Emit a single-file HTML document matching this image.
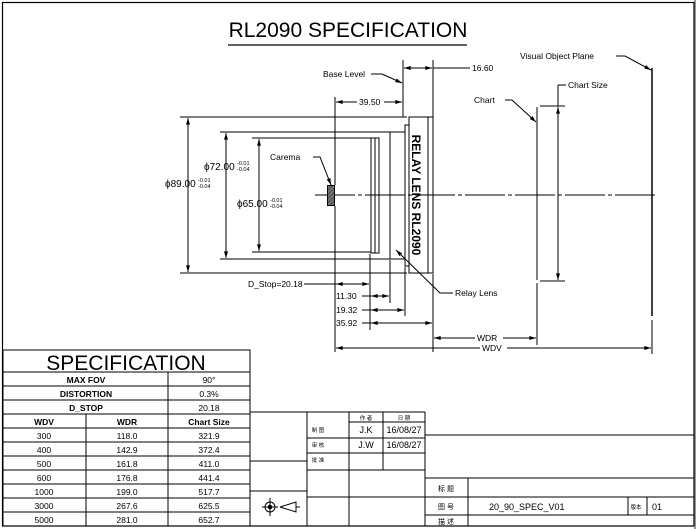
<!DOCTYPE html>
<html><head><meta charset="utf-8"><style>
html,body{margin:0;padding:0;background:#fff}
svg{display:block}
text{font-family:"Liberation Sans","Noto Sans CJK SC",sans-serif;fill:#000}
</style></head><body>
<svg width="696" height="529" viewBox="0 0 696 529" xmlns="http://www.w3.org/2000/svg">
<defs>
<marker id="a" viewBox="0 0 10 6" refX="10" refY="3" markerWidth="8" markerHeight="4" orient="auto-start-reverse" markerUnits="userSpaceOnUse"><path d="M0,0L10,3L0,6z" fill="#000"/></marker>
<pattern id="h" width="3" height="3" patternUnits="userSpaceOnUse" patternTransform="rotate(45)"><rect width="3" height="3" fill="#777"/><line x1="0" y1="0" x2="0" y2="3" stroke="#222" stroke-width="1.2"/></pattern>
</defs>
<rect x="694" y="0" width="2" height="529" fill="#999"/>
<rect x="2.5" y="2.5" width="691.5" height="523.5" fill="none" stroke="#000" stroke-width="1.2"/>
<text x="348" y="37" font-size="21" text-anchor="middle">RL2090 SPECIFICATION</text>
<line x1="228" y1="45" x2="467" y2="45" stroke="#000" stroke-width="1.3"/>

<g stroke="#000" stroke-width="1" fill="none">
<!-- centerline -->
<line x1="315" y1="195" x2="655" y2="195" stroke-dasharray="40,3,4,3"/>
<!-- extension lines for diameters -->
<line x1="180" y1="117" x2="407" y2="117"/>
<line x1="180" y1="273" x2="407" y2="273"/>
<line x1="220" y1="132" x2="390" y2="132"/>
<line x1="220" y1="259" x2="390" y2="259"/>
<line x1="252" y1="138" x2="371" y2="138"/>
<line x1="252" y1="252" x2="371" y2="252"/>
<line x1="188" y1="118" x2="188" y2="272" marker-start="url(#a)" marker-end="url(#a)"/>
<line x1="226" y1="133" x2="226" y2="258" marker-start="url(#a)" marker-end="url(#a)"/>
<line x1="259" y1="139" x2="259" y2="251" marker-start="url(#a)" marker-end="url(#a)"/>
<!-- lens -->
<rect x="371" y="138" width="8" height="115"/>
<line x1="375" y1="138" x2="375" y2="253"/>
<rect x="390" y="132" width="15" height="127"/>
<rect x="405" y="125" width="4" height="141"/>
<rect x="409" y="117" width="24" height="156"/>
<line x1="428" y1="117" x2="428" y2="273"/>
<!-- camera -->
<rect x="327.5" y="185.5" width="7" height="20" fill="url(#h)"/>
<line x1="335" y1="97" x2="335" y2="185"/>
<line x1="335" y1="206" x2="335" y2="352"/>
<!-- base level -->
<line x1="403" y1="60" x2="403" y2="117"/>
<line x1="433" y1="60" x2="433" y2="117"/>
<line x1="404" y1="68" x2="432" y2="68" marker-start="url(#a)" marker-end="url(#a)"/>
<line x1="433" y1="68" x2="470" y2="68"/>
<line x1="336" y1="102" x2="357" y2="102" marker-start="url(#a)"/>
<line x1="384" y1="102" x2="402" y2="102" marker-end="url(#a)"/>
<polyline points="371,74 382,74 402,83" marker-end="url(#a)"/>
<!-- carema leader -->
<polyline points="313,157 320,157 331,185" marker-end="url(#a)"/>
<!-- bottom dims -->
<line x1="370" y1="254" x2="370" y2="330"/>
<line x1="390" y1="260" x2="390" y2="303"/>
<line x1="405" y1="267" x2="405" y2="316"/>
<line x1="433" y1="274" x2="433" y2="352"/>
<line x1="333" y1="284" x2="335" y2="284"/>
<line x1="304" y1="284" x2="369" y2="284" marker-end="url(#a)"/>
<line x1="336" y1="284" x2="345" y2="284" marker-start="url(#a)"/>
<line x1="362" y1="296" x2="389" y2="296" marker-end="url(#a)"/>
<line x1="371" y1="296" x2="378" y2="296" marker-start="url(#a)"/>
<line x1="362" y1="310" x2="404" y2="310" marker-end="url(#a)"/>
<line x1="371" y1="310" x2="380" y2="310" marker-start="url(#a)"/>
<line x1="362" y1="323" x2="432" y2="323" marker-end="url(#a)"/>
<line x1="371" y1="323" x2="380" y2="323" marker-start="url(#a)"/>
<line x1="434" y1="338" x2="475" y2="338" marker-start="url(#a)"/>
<line x1="503" y1="338" x2="536" y2="338" marker-end="url(#a)"/>
<line x1="336" y1="348" x2="480" y2="348" marker-start="url(#a)"/>
<line x1="507" y1="348" x2="651" y2="348" marker-end="url(#a)"/>
<!-- relay lens leader -->
<polyline points="453,293 440,293 396,250" marker-end="url(#a)"/>
<!-- chart -->
<line x1="537" y1="107" x2="537" y2="280"/>
<line x1="537" y1="283" x2="537" y2="345"/>
<polyline points="505,100 512,100 536,122" marker-end="url(#a)"/>
<line x1="540" y1="106" x2="565" y2="106"/>
<line x1="540" y1="281" x2="565" y2="281"/>
<line x1="558" y1="85" x2="558" y2="106"/>
<line x1="558" y1="85" x2="566" y2="85"/>
<line x1="558" y1="107" x2="558" y2="280" marker-start="url(#a)" marker-end="url(#a)"/>
<!-- visual object plane -->
<line x1="652" y1="68" x2="652" y2="316" stroke-width="1.5"/>
<line x1="652" y1="320" x2="652" y2="354"/>
<polyline points="616,56 625,56 651,70" marker-end="url(#a)"/>
</g>
<g font-size="8.5">
<text x="323" y="77">Base Level</text>
<text x="472" y="71">16.60</text>
<text x="359" y="105">39.50</text>
<text x="270" y="160">Carema</text>
<text x="474" y="103">Chart</text>
<text x="568" y="88">Chart Size</text>
<text x="520" y="59">Visual  Object Plane</text>
<text x="455" y="296">Relay Lens</text>
<text x="248" y="287">D_Stop=20.18</text>
<text x="336" y="299">11.30</text>
<text x="336" y="313">19.32</text>
<text x="336" y="326">35.92</text>
<text x="477" y="341">WDR</text>
<text x="482" y="351">WDV</text>
<text x="165" y="187" font-size="10">ϕ89.00</text>
<text x="198" y="182" font-size="5.5">-0.01</text><text x="198" y="188" font-size="5.5">-0.04</text>
<text x="204" y="170" font-size="10">ϕ72.00</text>
<text x="237" y="165" font-size="5.5">-0.01</text><text x="237" y="171" font-size="5.5">-0.04</text>
<text x="237" y="207" font-size="10">ϕ65.00</text>
<text x="270" y="202" font-size="5.5">-0.01</text><text x="270" y="208" font-size="5.5">-0.04</text>
</g>
<text transform="translate(412,195) rotate(90)" font-size="12" font-weight="bold" text-anchor="middle">RELAY LENS RL2090</text>

<!-- spec table -->
<g stroke="#000" stroke-width="1" fill="none">
<rect x="3" y="350" width="247" height="176"/>
<line x1="3" y1="372" x2="250" y2="372"/>
<line x1="3" y1="386" x2="250" y2="386"/>
<line x1="3" y1="400" x2="250" y2="400"/>
<line x1="3" y1="414" x2="250" y2="414"/>
<line x1="3" y1="428" x2="250" y2="428"/>
<line x1="3" y1="442" x2="250" y2="442"/>
<line x1="3" y1="456" x2="250" y2="456"/>
<line x1="3" y1="470" x2="250" y2="470"/>
<line x1="3" y1="484" x2="250" y2="484"/>
<line x1="3" y1="498" x2="250" y2="498"/>
<line x1="3" y1="512" x2="250" y2="512"/>
<line x1="168" y1="372" x2="168" y2="526"/>
<line x1="86" y1="414" x2="86" y2="526"/>
</g>
<text x="126" y="370" font-size="21" text-anchor="middle">SPECIFICATION</text>
<g font-size="8.5" text-anchor="middle">
<text x="86" y="383" font-weight="bold">MAX FOV</text><text x="209" y="383">90°</text>
<text x="86" y="397" font-weight="bold">DISTORTION</text><text x="209" y="397">0.3%</text>
<text x="86" y="411" font-weight="bold">D_STOP</text><text x="209" y="411">20.18</text>
<text x="44" y="425" font-weight="bold">WDV</text><text x="127" y="425" font-weight="bold">WDR</text><text x="209" y="425" font-weight="bold">Chart Size</text>
<text x="44" y="439">300</text><text x="127" y="439">118.0</text><text x="209" y="439">321.9</text>
<text x="44" y="453">400</text><text x="127" y="453">142.9</text><text x="209" y="453">372.4</text>
<text x="44" y="467">500</text><text x="127" y="467">161.8</text><text x="209" y="467">411.0</text>
<text x="44" y="481">600</text><text x="127" y="481">176.8</text><text x="209" y="481">441.4</text>
<text x="44" y="495">1000</text><text x="127" y="495">199.0</text><text x="209" y="495">517.7</text>
<text x="44" y="509">3000</text><text x="127" y="509">267.6</text><text x="209" y="509">625.5</text>
<text x="44" y="523">5000</text><text x="127" y="523">281.0</text><text x="209" y="523">652.7</text>
</g>

<!-- title block -->
<g stroke="#000" stroke-width="1" fill="none">
<line x1="250" y1="412" x2="425" y2="412"/>
<line x1="307" y1="412" x2="307" y2="526"/>
<line x1="250" y1="461" x2="307" y2="461"/>
<line x1="250" y1="491" x2="307" y2="491"/>
<line x1="349" y1="412" x2="349" y2="526"/>
<line x1="383" y1="412" x2="383" y2="470"/>
<line x1="425" y1="412" x2="425" y2="526"/>
<line x1="349" y1="422" x2="425" y2="422"/>
<line x1="307" y1="438" x2="425" y2="438"/>
<line x1="307" y1="453" x2="425" y2="453"/>
<line x1="307" y1="470" x2="425" y2="470"/>
<line x1="307" y1="497" x2="425" y2="497"/>
<line x1="425" y1="435" x2="694" y2="435"/>
<line x1="425" y1="478" x2="694" y2="478"/>
<line x1="425" y1="497" x2="694" y2="497"/>
<line x1="425" y1="515" x2="694" y2="515"/>
<line x1="468" y1="478" x2="468" y2="526"/>
<line x1="628" y1="497" x2="628" y2="515"/>
<line x1="647" y1="497" x2="647" y2="515"/>
<circle cx="270" cy="507" r="5"/>
<circle cx="270" cy="507" r="1.8" fill="#000"/>
<line x1="262" y1="507" x2="278" y2="507"/>
<line x1="270" y1="498" x2="270" y2="516"/>
<polyline points="280,507 296,502 296,512 280,507"/>
<line x1="296" y1="507" x2="300" y2="507"/>
</g>
<g font-size="5.5" text-anchor="middle">
<text x="366" y="420">作 者</text><text x="404" y="420">日 期</text>
<text x="318" y="432">制 图</text><text x="318" y="447">审 核</text><text x="318" y="462">批 准</text>
<text x="636" y="509">版本</text>
</g>
<g font-size="7" text-anchor="middle">
<text x="446" y="491">标 题</text><text x="446" y="509">图 号</text><text x="446" y="524">描 述</text>
</g>
<g font-size="9">
<text x="366" y="433" text-anchor="middle">J.K</text><text x="404" y="433" text-anchor="middle">16/08/27</text>
<text x="366" y="448" text-anchor="middle">J.W</text><text x="404" y="448" text-anchor="middle">16/08/27</text>
<text x="489" y="510">20_90_SPEC_V01</text>
<text x="652" y="510">01</text>
</g>
</svg>
</body></html>
